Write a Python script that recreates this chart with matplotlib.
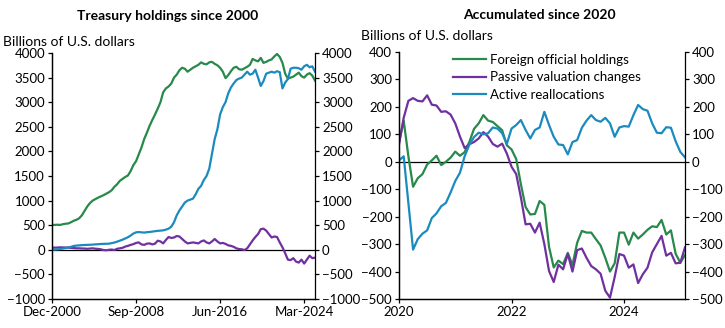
import matplotlib
matplotlib.use("Agg")
import matplotlib.pyplot as plt
import numpy as np

plt.rcParams['font.family'] = ['Lato', 'DejaVu Sans']

# ---------------- Left panel data (months since Dec-2000, every 3 months) ----------------
left_months = list(range(0, 292, 3))
left_foreign = [508, 505, 510, 505, 520, 530, 535, 560, 590, 610, 640, 700, 790, 880, 950, 1000,
                1030, 1060, 1085, 1110, 1140, 1170, 1210, 1280, 1330, 1400, 1440, 1480, 1510, 1600,
                1720, 1800, 1940, 2080, 2250, 2380, 2520, 2640, 2750, 2870, 3000, 3200, 3280, 3320,
                3380, 3500, 3560, 3650, 3700, 3680, 3620, 3660, 3700, 3730, 3760, 3810, 3780, 3770,
                3810, 3820, 3780, 3750, 3700, 3620, 3490, 3550, 3630, 3700, 3720, 3670, 3660, 3690,
                3720, 3760, 3880, 3850, 3830, 3900, 3800, 3820, 3850, 3870, 3930, 3980, 3920, 3800,
                3580, 3480, 3500, 3520, 3560, 3600, 3530, 3500, 3560, 3590, 3540, 3440]
left_active = [0, 5, 10, 15, 25, 35, 47, 60, 78, 85, 90, 95, 98, 100, 102, 106, 110, 114, 118, 120,
               122, 125, 135, 148, 165, 185, 205, 230, 255, 290, 330, 355, 360, 355, 350, 358, 362,
               370, 378, 385, 390, 395, 410, 430, 470, 560, 700, 800, 880, 960, 1000, 1020, 1040,
               1130, 1240, 1300, 1420, 1500, 1650, 1950, 2250, 2450, 2750, 2900, 3000, 3180, 3300,
               3380, 3450, 3480, 3500, 3560, 3620, 3560, 3580, 3660, 3500, 3330, 3430, 3580, 3600,
               3620, 3600, 3630, 3610, 3280, 3400, 3470, 3680, 3700, 3700, 3690, 3660, 3730, 3760,
               3710, 3730, 3620]
left_passive = [40, 45, 45, 50, 48, 47, 45, 40, 35, 30, 30, 27, 25, 20, 25, 30, 22, 18, 10, -5,
                -10, 0, 5, -5, 20, 30, 40, 65, 80, 100, 115, 140, 150, 110, 100, 125, 130, 110, 125,
                185, 170, 130, 200, 260, 240, 250, 280, 270, 220, 170, 130, 140, 150, 140, 130, 170,
                190, 150, 130, 170, 220, 170, 130, 140, 120, 90, 80, 60, 30, 15, 10, -5, 30, 110,
                190, 260, 320, 420, 430, 390, 320, 250, 270, 260, 150, 50, -70, -200, -210, -170,
                -240, -260, -200, -280, -200, -120, -170, -160]
left_tick_months = [0, 93, 186, 279]
left_tick_labels = ["Dec-2000", "Sep-2008", "Jun-2016", "Mar-2024"]
left_yticks = [-1000, -500, 0, 500, 1000, 1500, 2000, 2500, 3000, 3500, 4000]

# ---------------- Right panel data (monthly since Jan-2020) ----------------
right_months = list(range(62))
right_foreign = [70, 150, 20, -91, -60, -45, -10, 5, 22, -12, 0, 15, 37, 22, 35, 72, 120, 140, 170,
                 150, 145, 130, 115, 60, 45, 10, -82, -165, -192, -190, -143, -157, -310, -385,
                 -360, -373, -332, -376, -295, -252, -258, -258, -282, -305, -350, -400, -370, -258,
                 -258, -302, -258, -280, -265, -248, -235, -238, -212, -265, -250, -335, -368, -340]
right_passive = [64, 160, 222, 232, 222, 220, 242, 208, 205, 182, 184, 172, 140, 92, 50, 64, 72, 85,
                 108, 92, 65, 55, 66, 30, -18, -45, -130, -228, -226, -258, -222, -300, -398, -438,
                 -375, -392, -336, -400, -322, -316, -350, -380, -392, -408, -470, -495, -420, -336,
                 -342, -386, -374, -442, -410, -386, -330, -300, -270, -342, -332, -370, -368, -312]
right_active = [5, 20, -150, -320, -282, -262, -250, -205, -188, -162, -150, -112, -70, -40, 20, 62,
                90, 106, 100, 104, 125, 121, 104, 65, 121, 134, 152, 116, 85, 116, 125, 182, 134, 91,
                63, 61, 27, 72, 79, 124, 150, 170, 152, 146, 160, 140, 91, 125, 130, 128, 170, 207,
                192, 186, 140, 106, 104, 126, 124, 75, 36, 16]
right_tick_years = [2020, 2022, 2024]
right_yticks = [-500, -400, -300, -200, -100, 0, 100, 200, 300, 400]
legend_labels = ["Foreign official holdings", "Passive valuation changes", "Active reallocations"]

GREEN = "#27894a"
PURPLE = "#7030a0"
BLUE = "#1b8bbf"
LW = 1.6
FS = 9.5

fig = plt.figure(figsize=(7.25, 3.28), dpi=100)


def style(ax):
    for s in ax.spines.values():
        s.set_linewidth(0.9)
    ax.spines['top'].set_visible(False)
    ax.tick_params(axis='both', direction='out', length=3, width=0.9, labelsize=FS, pad=2)


# Left panel
axL = fig.add_axes([52 / 725, 29 / 328, 263 / 725, 246 / 328])
axL.plot(left_months, left_foreign, color=GREEN, lw=LW)
axL.plot(left_months, left_passive, color=PURPLE, lw=LW)
axL.plot(left_months, left_active, color=BLUE, lw=LW)
axL.axhline(0, color='black', lw=0.9, zorder=1)
axL.set_xlim(0, 291)
axL.set_ylim(-1000, 4000)
axL.set_xticks(left_tick_months)
axL.set_xticklabels(left_tick_labels)
axL.set_yticks(left_yticks)
style(axL)
axL2 = axL.twinx()
axL2.set_ylim(-1000, 4000)
axL2.set_yticks(left_yticks)
style(axL2)
axL.spines['right'].set_visible(False)

# Right panel
axR = fig.add_axes([399 / 725, 29 / 328, 286 / 725, 247 / 328])
rx = [2020 + m / 12 for m in right_months]
axR.plot(rx, right_foreign, color=GREEN, lw=LW, label=legend_labels[0])
axR.plot(rx, right_passive, color=PURPLE, lw=LW, label=legend_labels[1])
axR.plot(rx, right_active, color=BLUE, lw=LW, label=legend_labels[2])
axR.axhline(0, color='black', lw=0.9, zorder=1)
axR.set_xlim(2020, 2020 + 61 / 12)
axR.set_ylim(-500, 400)
axR.set_xticks(right_tick_years)
axR.set_xticklabels([str(y) for y in right_tick_years])
axR.set_yticks(right_yticks)
style(axR)
axR2 = axR.twinx()
axR2.set_ylim(-500, 400)
axR2.set_yticks(right_yticks)
style(axR2)
axR.spines['right'].set_visible(False)
leg = axR.legend(loc='upper left', bbox_to_anchor=(0.16, 1.025), frameon=False, fontsize=FS,
                 handlelength=2.5, handletextpad=0.3, labelspacing=0.42, borderaxespad=0.2)

fig.text(168 / 725, 1 - 16 / 328, "Treasury holdings since 2000", ha='center', va='center',
         fontsize=FS + 0.5, fontweight='bold')
fig.text(539 / 725, 1 - 15 / 328, "Accumulated since 2020", ha='center', va='center',
         fontsize=FS + 0.5, fontweight='bold')
fig.text(3 / 725, 1 - 42 / 328, "Billions of U.S. dollars", ha='left', va='center', fontsize=FS + 0.5)
fig.text(361 / 725, 1 - 36 / 328, "Billions of U.S. dollars", ha='left', va='center', fontsize=FS + 0.5)

fig.savefig("out.png", dpi=100)
